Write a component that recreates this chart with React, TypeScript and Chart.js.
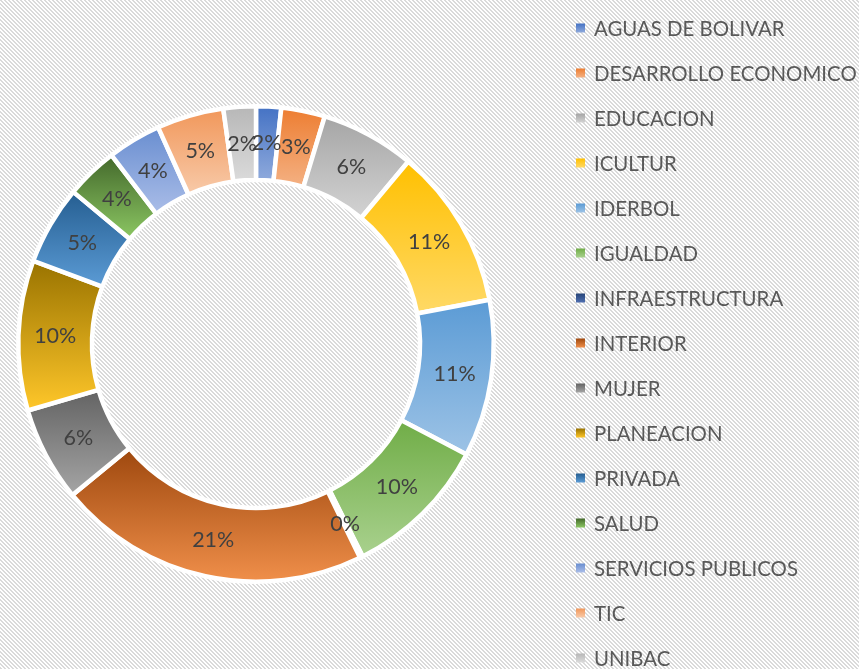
import React, { useEffect, useRef } from 'react';
import { Chart, registerables } from 'chart.js';

Chart.register(...registerables);

const categories = [
  'AGUAS DE BOLIVAR',
  'DESARROLLO ECONOMICO',
  'EDUCACION',
  'ICULTUR',
  'IDERBOL',
  'IGUALDAD',
  'INFRAESTRUCTURA',
  'INTERIOR',
  'MUJER',
  'PLANEACION',
  'PRIVADA',
  'SALUD',
  'SERVICIOS PUBLICOS',
  'TIC',
  'UNIBAC',
];

const values = [1.7, 2.97, 6.4, 10.95, 10.67, 9.9, 0.2, 21.25, 6.45, 10.2, 5.36, 3.55, 3.65, 4.55, 2.2];

const topColors = [
  '#4472c4', '#ed7d31', '#a5a5a5', '#ffc000', '#5b9bd5', '#70ad47', '#264478', '#9e480e',
  '#636363', '#997300', '#255e91', '#43682b', '#698ed0', '#f1975a', '#b7b7b7',
];
const bottomColors = [
  '#8faadc', '#f4b183', '#d3d3d3', '#ffd966', '#9dc3e6', '#a9d18e', '#4f6fb0', '#f08f4a',
  '#a5a5a5', '#ffc72a', '#5b9bd5', '#8cc763', '#aabde8', '#f8caa9', '#dbdbdb',
];

const FONT = 'Lato, "Open Sans", sans-serif';

function makePattern(ctx: CanvasRenderingContext2D) {
  const c = document.createElement('canvas');
  c.width = 8;
  c.height = 8;
  const p = c.getContext('2d')!;
  p.fillStyle = '#ffffff';
  p.fillRect(0, 0, 8, 8);
  p.fillStyle = '#dadada';
  for (let y = 0; y < 8; y++) {
    for (let x = 0; x < 8; x++) {
      if ((((x - y) % 4) + 4) % 4 < 2) p.fillRect(x, y, 1, 1);
    }
  }
  return ctx.createPattern(c, 'repeat')!;
}

const backgroundPlugin = {
  id: 'hatchBackground',
  beforeDraw(chart: any) {
    const ctx = chart.ctx as CanvasRenderingContext2D;
    ctx.save();
    ctx.fillStyle = makePattern(ctx);
    ctx.fillRect(0, 0, chart.width, chart.height);
    ctx.restore();
  },
};

const gradientPlugin = {
  id: 'sliceGradients',
  beforeDatasetsDraw(chart: any) {
    const ctx = chart.ctx as CanvasRenderingContext2D;
    const meta = chart.getDatasetMeta(0);
    meta.data.forEach((arc: any, i: number) => {
      const { x, y, startAngle, endAngle, innerRadius, outerRadius } = arc.getProps(
        ['x', 'y', 'startAngle', 'endAngle', 'innerRadius', 'outerRadius'],
        true
      );
      let minY = Infinity;
      let maxY = -Infinity;
      const steps = 48;
      for (let k = 0; k <= steps; k++) {
        const a = startAngle + ((endAngle - startAngle) * k) / steps;
        for (const r of [innerRadius, outerRadius]) {
          const yy = y + r * Math.sin(a);
          if (yy < minY) minY = yy;
          if (yy > maxY) maxY = yy;
        }
      }
      if (maxY - minY < 1) maxY = minY + 1;
      const g = ctx.createLinearGradient(0, minY, 0, maxY);
      g.addColorStop(0, topColors[i]);
      g.addColorStop(1, bottomColors[i]);
      arc.options.backgroundColor = g;
    });
  },
};

const labelPlugin = {
  id: 'sliceLabels',
  afterDatasetsDraw(chart: any) {
    const ctx = chart.ctx as CanvasRenderingContext2D;
    const meta = chart.getDatasetMeta(0);
    const data = chart.data.datasets[0].data as number[];
    const total = data.reduce((s, v) => s + v, 0);
    ctx.save();
    ctx.font = `21.5px ${FONT}`;
    ctx.fillStyle = '#404040';
    ctx.textAlign = 'center';
    ctx.textBaseline = 'middle';
    meta.data.forEach((arc: any, i: number) => {
      const pos = arc.tooltipPosition(true);
      const pct = Math.round((data[i] / total) * 100);
      ctx.fillText(`${pct}%`, pos.x, pos.y);
    });
    ctx.restore();
  },
};

const legendPlugin = {
  id: 'sideLegend',
  afterDraw(chart: any) {
    const ctx = chart.ctx as CanvasRenderingContext2D;
    const labels = chart.data.labels as string[];
    ctx.save();
    ctx.font = `20.4px ${FONT}`;
    ctx.textBaseline = 'middle';
    ctx.textAlign = 'left';
    labels.forEach((label, i) => {
      const cy = 28 + 45 * i;
      const g = ctx.createLinearGradient(0, cy - 4.5, 0, cy + 4.5);
      g.addColorStop(0, topColors[i]);
      g.addColorStop(1, bottomColors[i]);
      ctx.fillStyle = g;
      ctx.fillRect(576, cy - 4.5, 9, 9);
      ctx.fillStyle = '#595959';
      ctx.fillText(label, 594, cy + 1);
    });
    ctx.restore();
  },
};

export default function App() {
  const ref = useRef<HTMLCanvasElement | null>(null);

  useEffect(() => {
    document.body.style.margin = '0';
    const canvas = ref.current!;
    const chart = new Chart(canvas, {
      type: 'doughnut',
      data: {
        labels: categories,
        datasets: [
          {
            data: values,
            backgroundColor: topColors.slice(),
            borderColor: '#ffffff',
            borderWidth: 4.5,
            hoverOffset: 0,
          },
        ],
      },
      options: {
        responsive: false,
        animation: false,
        cutout: '69%',
        layout: { padding: { left: 16, right: 363, top: 104, bottom: 85 } },
        plugins: {
          legend: { display: false },
          tooltip: { enabled: false },
        },
        events: [],
      },
      plugins: [backgroundPlugin, gradientPlugin, labelPlugin, legendPlugin],
    });
    return () => chart.destroy();
  }, []);

  return (
    <div style={{ width: 859, height: 669 }}>
      <canvas ref={ref} width={859} height={669} style={{ display: 'block' }} />
    </div>
  );
}
